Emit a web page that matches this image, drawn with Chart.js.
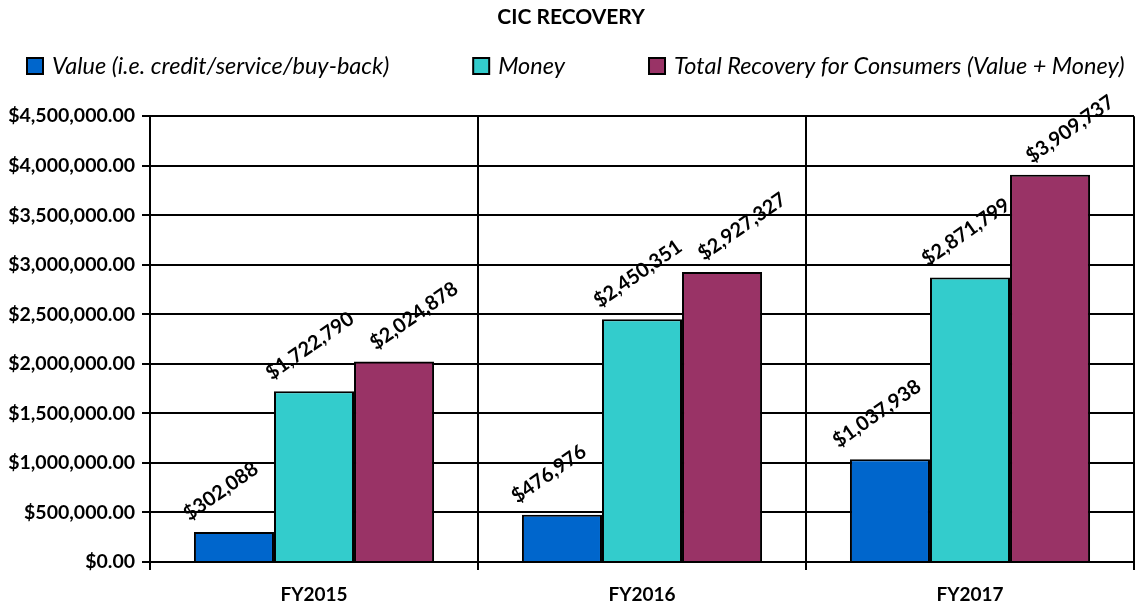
<!DOCTYPE html>
<html>
<head>
<meta charset="utf-8">
<script src="https://cdn.jsdelivr.net/npm/chart.js@4"></script>
<style>
  body { margin: 0; background: #fff; }
  canvas { display: block; }
</style>
</head>
<body>
<canvas id="myChart" width="1138" height="607"></canvas>
<script>
const years = ['FY2015', 'FY2016', 'FY2017'];
const valueRecovery = [302088, 476976, 1037938];
const moneyRecovery = [1722790, 2450351, 2871799];
const totalRecovery = [2024878, 2927327, 3909737];

const FONT = 'Lato, "Open Sans", sans-serif';

function money(v, dec) {
    return '$' + v.toLocaleString('en-US', {minimumFractionDigits: dec, maximumFractionDigits: dec});
}

// rotated value labels above each bar
const barLabels = {
    id: 'barLabels',
    afterDatasetsDraw(chart) {
        const ctx = chart.ctx;
        const ang = -35 * Math.PI / 180;
        const shift = [-13, -4, 20];   // sideways nudge per series
        ctx.save();
        ctx.font = 'bold 20px ' + FONT;
        ctx.fillStyle = '#000';
        ctx.textAlign = 'center';
        ctx.textBaseline = 'middle';
        chart.data.datasets.forEach((ds, i) => {
            chart.getDatasetMeta(i).data.forEach((bar, j) => {
                const txt = money(ds.data[j], 0);
                const w = ctx.measureText(txt).width;
                const h = 20;
                const boxH = w * Math.sin(-ang) + h * Math.cos(-ang);
                ctx.save();
                ctx.translate(bar.x + shift[i], bar.y - boxH / 2 - 8);
                ctx.rotate(ang);
                ctx.fillText(txt, 0, 0);
                ctx.restore();
            });
        });
        ctx.restore();
    }
};

// legend spread across the top
const wideLegend = {
    id: 'wideLegend',
    afterDraw(chart) {
        const ctx = chart.ctx;
        const y = 66;
        const gap = 84;
        let x = 27;
        ctx.save();
        ctx.font = 'italic 23.5px ' + FONT;
        ctx.textAlign = 'left';
        ctx.textBaseline = 'middle';
        chart.data.datasets.forEach(ds => {
            ctx.fillStyle = ds.backgroundColor;
            ctx.fillRect(x, y - 8, 16, 16);
            ctx.strokeStyle = '#000';
            ctx.lineWidth = 2;
            ctx.strokeRect(x, y - 8, 16, 16);
            ctx.fillStyle = '#000';
            ctx.fillText(ds.label, x + 25, y);
            x += 25 + ctx.measureText(ds.label).width + gap;
        });
        ctx.restore();
    }
};

const data = {
    labels: years,
    datasets: [
        {
            label: 'Value (i.e. credit/service/buy-back)',
            data: valueRecovery,
            backgroundColor: '#0066CC',
            borderColor: '#000',
            borderWidth: 2
        },
        {
            label: 'Money',
            data: moneyRecovery,
            backgroundColor: '#33CCCC',
            borderColor: '#000',
            borderWidth: 2
        },
        {
            label: 'Total Recovery for Consumers (Value + Money)',
            data: totalRecovery,
            backgroundColor: '#993366',
            borderColor: '#000',
            borderWidth: 2
        }
    ]
};

const config = {
    type: 'bar',
    data: data,
    options: {
        responsive: false,
        animation: false,
        categoryPercentage: 0.732,
        barPercentage: 1.0,
        layout: {
            padding: {left: 8, right: 4, top: 0, bottom: 0}
        },
        plugins: {
            legend: { display: false },
            tooltip: { enabled: false },
            title: {
                display: true,
                text: 'CIC RECOVERY',
                color: '#000',
                font: {family: FONT, size: 21, weight: 'bold', lineHeight: 1.2},
                padding: {top: 5, bottom: 86}
            }
        },
        scales: {
            x: {
                offset: true,
                grid: {
                    offset: true,
                    color: '#000',
                    lineWidth: 2,
                    tickLength: 8
                },
                border: { color: '#000', width: 2 },
                ticks: {
                    color: '#000',
                    padding: 13,
                    font: {family: FONT, size: 19, weight: 'bold'}
                },
                afterFit(scale) { scale.height = 45; }
            },
            y: {
                min: 0,
                max: 4500000,
                grid: {
                    color: '#000',
                    lineWidth: 2,
                    tickLength: 8
                },
                border: { color: '#000', width: 2 },
                ticks: {
                    stepSize: 500000,
                    color: '#000',
                    padding: 7,
                    font: {family: FONT, size: 19.5, weight: 'bold'},
                    callback: v => money(v, 2)
                },
                afterFit(scale) { scale.width = 142; }
            }
        }
    },
    plugins: [barLabels, wideLegend]
};

const myChart = new Chart(document.getElementById('myChart'), config);
</script>
</body>
</html>
